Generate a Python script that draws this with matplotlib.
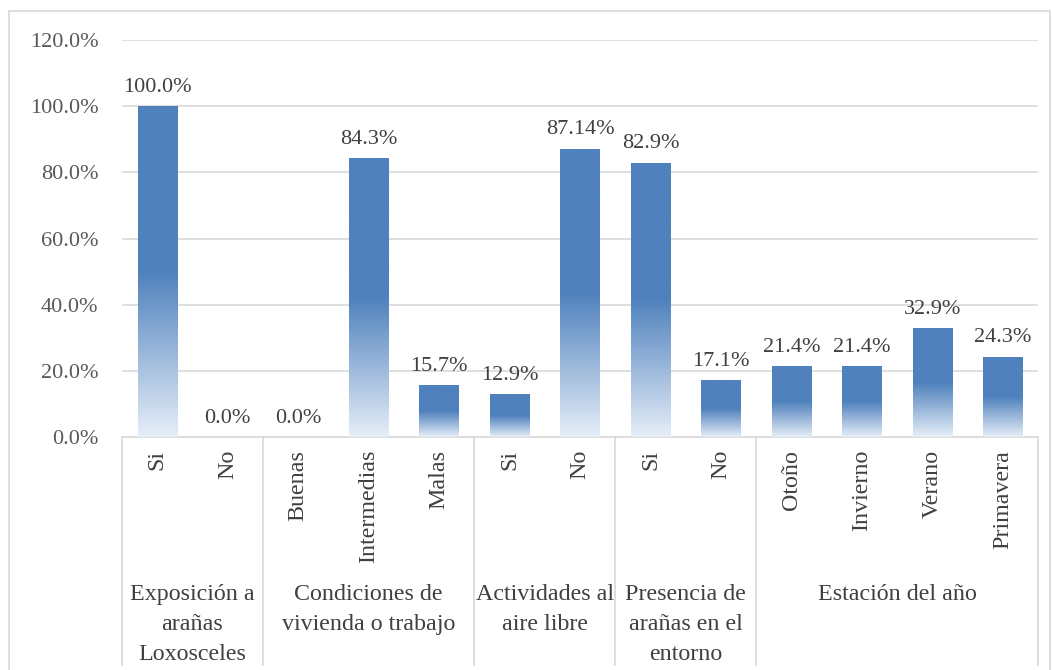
import matplotlib
matplotlib.use("Agg")
import matplotlib.pyplot as plt
import numpy as np
from matplotlib.colors import LinearSegmentedColormap
from matplotlib.patches import Rectangle
from matplotlib.lines import Line2D

# ---- data ----
groups = ["Exposición a\narañas\nLoxosceles", "Condiciones de\nvivienda o trabajo",
          "Actividades al\naire libre", "Presencia de\narañas en el\nentorno",
          "Estación del año"]
group_sizes = [2, 3, 2, 2, 4]
subcategories = ["Si", "No", "Buenas", "Intermedias", "Malas", "Si", "No",
                 "Si", "No", "Otoño", "Invierno", "Verano", "Primavera"]
values = [100.0, 0.0, 0.0, 84.3, 15.7, 12.9, 87.14, 82.9, 17.1, 21.4, 21.4, 32.9, 24.3]
value_labels = ["100.0%", "0.0%", "0.0%", "84.3%", "15.7%", "12.9%", "87.14%",
                "82.9%", "17.1%", "21.4%", "21.4%", "32.9%", "24.3%"]
yticks = [0, 20, 40, 60, 80, 100, 120]

# ---- style ----
FONT = "Liberation Serif"
plt.rcParams['font.family'] = FONT
text_col = "#404040"
tick_col = "#595959"
grid_col = "#d9d9d9"
FS = 16
FS_CAT = 17.3
W, H = 1052, 670
fig = plt.figure(figsize=(W / 100, H / 100), dpi=100)
fig.patch.set_facecolor("white")

# outer chart border
fig.add_artist(Rectangle((9 / W, -0.01), (1050 - 9) / W, 1.01 - 11 / H,
                         transform=fig.transFigure, fill=False,
                         edgecolor=grid_col, linewidth=1.2))

ax_left, ax_right = 122 / W, 1038 / W
ax_bottom, ax_top = (H - 437) / H, (H - 40) / H
ax = fig.add_axes([ax_left, ax_bottom, ax_right - ax_left, ax_top - ax_bottom])
ax.set_facecolor("none")

n = len(values)
x = np.arange(n)
bar_w = 0.56

cmap = LinearSegmentedColormap.from_list(
    "grad", [(0.0, "#e6eef8"), (0.5, "#4f81bd"), (1.0, "#4f81bd")])
grad = np.linspace(0, 1, 256).reshape(-1, 1)

bars = ax.bar(x, values, width=bar_w, color="none", edgecolor="none", zorder=3)
for b, v in zip(bars, values):
    if v <= 0:
        continue
    x0 = b.get_x()
    im = ax.imshow(grad, cmap=cmap, origin="lower", aspect="auto",
                   extent=(x0, x0 + bar_w, 0, v), zorder=3, interpolation="bilinear")
    im.set_clip_path(b)
ax.set_xlim(-0.5, n - 0.5)
ax.set_ylim(0, 120)

for xi, v, lab in zip(x, values, value_labels):
    ax.text(xi, v + 2.8, lab, ha="center", va="bottom", fontsize=FS,
            color=text_col, family=FONT)

# y axis
ax.set_yticks(yticks)
ax.set_yticklabels([f"{t:.1f}%" for t in yticks], fontsize=FS, color=tick_col,
                   family=FONT)
ax.tick_params(axis="y", length=0, pad=17)
ax.yaxis.grid(True, color=grid_col, linewidth=1.2, zorder=0)
ax.set_axisbelow(True)
for s in ["left", "top", "right"]:
    ax.spines[s].set_visible(False)
ax.spines["bottom"].set_color(grid_col)
ax.spines["bottom"].set_linewidth(1.2)
ax.set_xticks([])

# multi-level category axis
trans = ax.get_xaxis_transform()
ax_h_px = 437 - 40
for xi, lab in zip(x, subcategories):
    ax.text(xi, -13 / ax_h_px, lab, transform=trans, rotation=90, ha="center",
            va="top", fontsize=FS_CAT, color=text_col, family=FONT)

bounds = np.concatenate([[0], np.cumsum(group_sizes)]) - 0.5
for bx in bounds:
    ax.add_line(Line2D([bx, bx], [0, -(665 - 437) / ax_h_px], transform=trans,
                       color=grid_col, linewidth=1.2, clip_on=False))
for g, a, b in zip(groups, bounds[:-1], bounds[1:]):
    ax.text((a + b) / 2, -(584 - 437) / ax_h_px, g, transform=trans, ha="center",
            va="top", fontsize=FS_CAT, color=text_col, linespacing=1.56, family=FONT)

fig.savefig("out.png", dpi=100, facecolor="white")
